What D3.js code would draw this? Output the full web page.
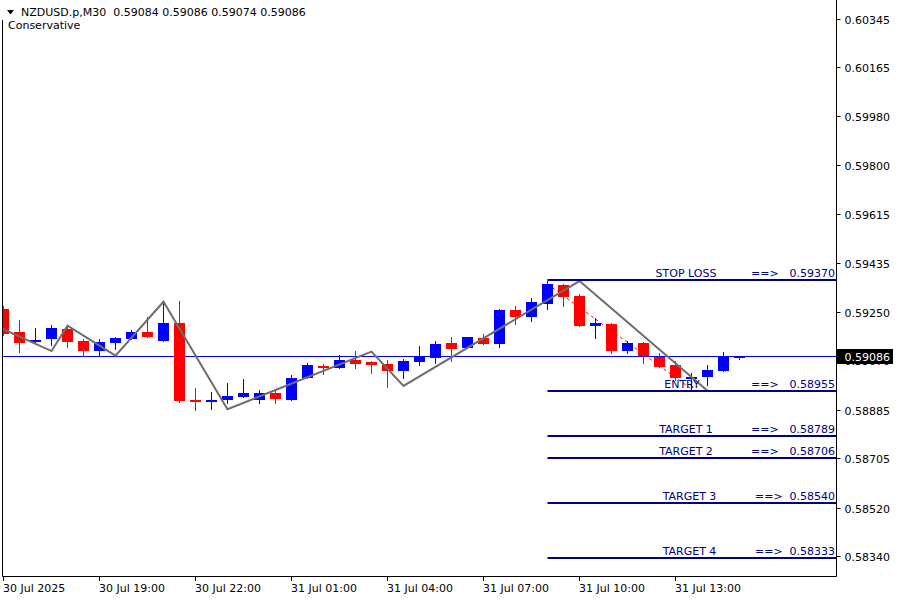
<!DOCTYPE html>
<html><head><meta charset="utf-8">
<script src="https://cdn.jsdelivr.net/npm/d3@7"></script>
<style>
html,body{margin:0;padding:0;background:#fff;}
svg{display:block;font-family:"DejaVu Sans",sans-serif;font-size:11px;}
</style>
</head><body>
<svg id="chart" width="900" height="600"></svg>
<script>
// ---------------- DATA ----------------
const symbolLabel = "NZDUSD.p,M30";
const headerOHLC = [0.59084, 0.59086, 0.59074, 0.59086];
const indicatorName = "Conservative";
const currentPrice = 0.59086;

// 30-minute bars starting 30 Jul 2025 16:00
const open  = [0.59262,0.59176,0.59140,0.59149,0.59187,0.59142,0.59106,0.59136,0.59151,0.59176,
               0.59144,0.59210,0.58922,0.58916,0.58922,0.58935,0.58922,0.58949,0.58922,0.59005,
               0.59050,0.59043,0.59072,0.59065,0.59057,0.59032,0.59064,0.59080,0.59135,0.59118,
               0.59154,0.59132,0.59258,0.59233,0.59282,0.59351,0.59311,0.59200,0.59206,0.59106,
               0.59135,0.59084,0.59053,0.59001,0.59007,0.59032,0.59084];
const high  = [0.59273,0.59221,0.59191,0.59202,0.59198,0.59150,0.59150,0.59157,0.59184,0.59232,
               0.59287,0.59292,0.58967,0.58952,0.58986,0.59001,0.58960,0.58960,0.59016,0.59060,
               0.59057,0.59090,0.59105,0.59068,0.59072,0.59074,0.59125,0.59144,0.59157,0.59157,
               0.59169,0.59262,0.59273,0.59303,0.59368,0.59355,0.59317,0.59227,0.59211,0.59144,
               0.59140,0.59097,0.59069,0.59024,0.59053,0.59103,0.59086];
const low   = [0.59165,0.59103,0.59139,0.59128,0.59121,0.59085,0.59090,0.59113,0.59150,0.59157,
               0.59142,0.58916,0.58885,0.58890,0.58910,0.58935,0.58910,0.58910,0.58922,0.59005,
               0.59021,0.59042,0.59041,0.59024,0.58972,0.59006,0.59053,0.59062,0.59069,0.59118,
               0.59132,0.59121,0.59207,0.59217,0.59263,0.59273,0.59200,0.59155,0.59097,0.59097,
               0.59059,0.59047,0.58997,0.58960,0.58978,0.59032,0.59074];
const close = [0.59170,0.59136,0.59146,0.59191,0.59140,0.59106,0.59139,0.59154,0.59176,0.59159,
               0.59210,0.58920,0.58916,0.58922,0.58937,0.58949,0.58949,0.58926,0.59005,0.59053,
               0.59044,0.59072,0.59058,0.59053,0.59031,0.59069,0.59085,0.59131,0.59113,0.59157,
               0.59132,0.59258,0.59233,0.59288,0.59355,0.59308,0.59200,0.59208,0.59106,0.59135,
               0.59087,0.59047,0.59003,0.59007,0.59034,0.59084,0.59086];

// ZigZag indicator pivots (bar index, price)
const zigzagBars   = [-1, 3, 4, 7, 10, 14, 23, 25, 36, 44];
const zigzagPrices = [0.59213,0.59105,0.59200,0.59088,0.59289,0.58888,0.59103,0.58975,0.59366,0.58957];

// red dotted trend line (bar index, price)
const trendBars   = [34, 43];
const trendPrices = [0.59355, 0.58963];

// trade levels
const levelNames  = ["STOP LOSS","ENTRY","TARGET 1","TARGET 2","TARGET 3","TARGET 4"];
const levelPrices = [0.59370, 0.58955, 0.58789, 0.58706, 0.58540, 0.58333];
const levelStartBar = 34;

// axes
const priceTicks = [0.60345,0.60165,0.59980,0.59800,0.59615,0.59435,0.59250,0.59070,0.58885,0.58705,0.58520,0.58340];
const timeTickLabels = ["30 Jul 2025","30 Jul 19:00","30 Jul 22:00","31 Jul 01:00","31 Jul 04:00","31 Jul 07:00","31 Jul 10:00","31 Jul 13:00"];
const timeTickBars   = [0, 6, 12, 18, 24, 30, 36, 42];

// ---------------- LAYOUT ----------------
const W = 900, H = 600;
const plot = {left: 2, right: 836, top: 0, bottom: 576};
const nameCenters = [686, 682, 686, 686, 689.5, 689.5];
const arrowStarts = [751, 751, 751, 751, 755, 755];
const NAVY = "#000080", BULL = "#0000ff", BEAR = "#ff0000";

const svg = d3.select("#chart");

const x = d3.scaleLinear().domain([0, 46]).range([3.5, 739.5]);
const y = d3.scaleLinear().domain([0.58266, 0.60407]).range([576, 2]);

svg.append("defs").append("clipPath").attr("id","plotclip")
  .append("rect").attr("x", plot.left+1).attr("y", plot.top).attr("width", plot.right-plot.left-1).attr("height", plot.bottom-plot.top);

const py = v => Math.round(y(v));

// current price line (behind candles)
svg.append("line")
  .attr("x1", plot.left).attr("x2", plot.right)
  .attr("y1", py(currentPrice)+0.5).attr("y2", py(currentPrice)+0.5)
  .attr("stroke", BULL).attr("stroke-width", 1);

// red dotted trend line
svg.append("line")
  .attr("x1", x(trendBars[0])).attr("y1", y(trendPrices[0]))
  .attr("x2", x(trendBars[1])).attr("y2", y(trendPrices[1]))
  .attr("stroke", BEAR).attr("stroke-width", 1).attr("stroke-dasharray", "3,3");

// candles
const bars = open.map((o,i)=>({i, o, h:high[i], l:low[i], c:close[i]}));
const col = d => d.c >= d.o ? BULL : BEAR;
const cg = svg.append("g").attr("clip-path","url(#plotclip)")
  .selectAll("g").data(bars).join("g");
cg.append("rect")
  .attr("x", d => x(d.i)-0.5).attr("width", 1)
  .attr("y", d => py(d.h))
  .attr("height", d => Math.max(1, py(d.l)-py(d.h)+1))
  .attr("fill", col);
cg.append("rect")
  .attr("x", d => x(d.i)-5.5).attr("width", 11)
  .attr("y", d => py(Math.max(d.o,d.c)))
  .attr("height", d => Math.max(2, py(Math.min(d.o,d.c))-py(Math.max(d.o,d.c))))
  .attr("fill", col);

// zigzag
const zz = zigzagBars.map((b,i)=>[x(b), y(zigzagPrices[i])]);
svg.append("path").attr("clip-path","url(#plotclip)")
  .attr("d", d3.line()(zz))
  .attr("fill","none").attr("stroke","#6e6e6e").attr("stroke-width",2)
  .attr("stroke-linejoin","miter");

// level lines and labels
const lv = svg.append("g").selectAll("g").data(levelNames.map((n,i)=>({n, p:levelPrices[i], i}))).join("g");
lv.append("line")
  .attr("x1", x(levelStartBar)).attr("x2", plot.right)
  .attr("y1", d => py(d.p)).attr("y2", d => py(d.p))
  .attr("stroke", NAVY).attr("stroke-width", 2);
lv.append("text").attr("x", d => nameCenters[d.i]).attr("y", d => py(d.p)-3)
  .attr("text-anchor","middle").attr("fill", NAVY).text(d => d.n);
lv.append("text").attr("x", d => arrowStarts[d.i]).attr("y", d => py(d.p)-3)
  .attr("fill", NAVY).text("==>");
lv.append("text").attr("x", plot.right-1).attr("y", d => py(d.p)-3)
  .attr("text-anchor","end").attr("fill", NAVY).text(d => d3.format(".5f")(d.p));

// frame
svg.append("path")
  .attr("d", `M${plot.left+0.5},20 V${plot.bottom+0.5} H${plot.right+0.5} V0`)
  .attr("fill","none").attr("stroke","#000").attr("stroke-width",1);

// right price axis
const yAxis = d3.axisRight(y).tickValues(priceTicks).tickSize(4).tickPadding(4)
  .tickFormat(d3.format(".5f"));
const ya = svg.append("g").attr("transform", `translate(${plot.right+0.5},0)`).call(yAxis);
ya.select(".domain").remove();
ya.selectAll(".tick").attr("transform", d => `translate(0,${py(d)+0.5})`);
ya.selectAll("text").attr("font-family","DejaVu Sans").attr("font-size",11).attr("fill","#000").attr("dy","0.4em");
ya.selectAll("line").attr("stroke","#000");

// current price tag
const cy = py(currentPrice)+0.5;
svg.append("rect").attr("x", plot.right+1).attr("y", cy-7.5).attr("width", 56).attr("height", 15).attr("fill","#000");
svg.append("text").attr("x", plot.right+8.5).attr("y", cy).attr("dy","0.4em").attr("fill","#fff")
  .text(d3.format(".5f")(currentPrice));

// bottom time axis
const tg = svg.append("g").selectAll("g").data(timeTickBars.map((b,i)=>({b, t:timeTickLabels[i]}))).join("g");
tg.append("line")
  .attr("x1", d => x(d.b)).attr("x2", d => x(d.b))
  .attr("y1", plot.bottom+1).attr("y2", plot.bottom+5)
  .attr("stroke","#000");
tg.append("text").attr("x", d => x(d.b)-0.5).attr("y", plot.bottom+16)
  .attr("fill","#000").text(d => d.t);

// header
svg.append("path").attr("d","M7,10 L14,10 L10.5,14.5 Z").attr("fill","#000");
svg.append("text").attr("x",21).attr("y",16).attr("fill","#000").attr("xml:space","preserve")
  .style("white-space","pre")
  .text(symbolLabel + "  " + headerOHLC.map(d3.format(".5f")).join(" "));
svg.append("text").attr("x",8).attr("y",29).attr("fill","#000").text(indicatorName);
</script>
</body></html>
